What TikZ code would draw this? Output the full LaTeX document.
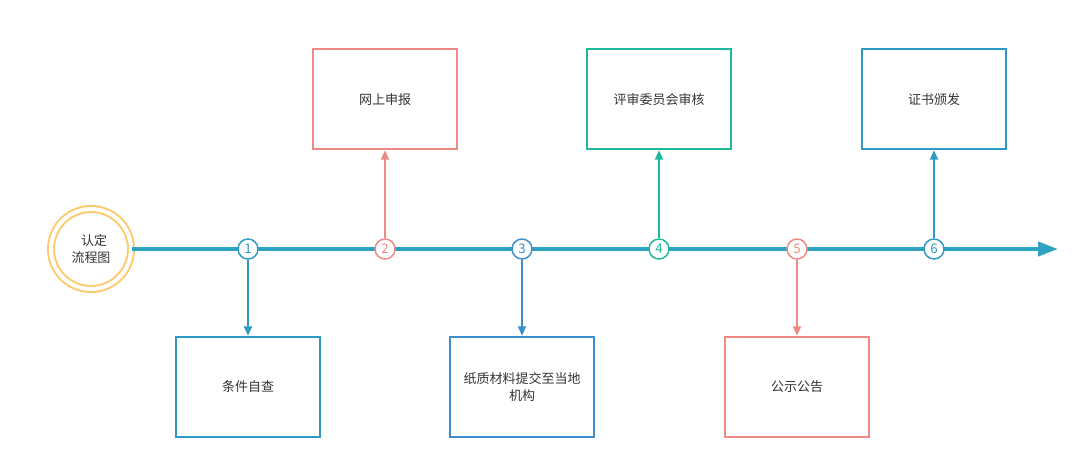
\documentclass[tikz,border=0pt]{standalone}
\usepackage{fontspec}
\setmainfont{Noto Sans CJK SC}
\usetikzlibrary{arrows.meta,positioning}
\definecolor{lineblue}{HTML}{2EA3C1}
\definecolor{stepblue}{HTML}{2E9AC2}
\definecolor{deepblue}{HTML}{3C8FCB}
\definecolor{salmon}{HTML}{EE8A85}
\definecolor{teal}{HTML}{1EB89B}
\definecolor{gold}{HTML}{FDCB6E}
\definecolor{ink}{HTML}{333333}

\begin{document}
\begin{tikzpicture}[
        x=0.75pt, y=-0.75pt,
        stepbox/.style={
            draw=#1,
            line width=1.5pt,
            minimum width=108pt,
            minimum height=75pt,
            align=center,
            text=ink,
            font=\fontsize{9.75}{13}\selectfont
        },
        numdot/.style={
            circle,
            draw=#1,
            fill=white,
            line width=1.1pt,
            minimum size=15pt,
            inner sep=0pt,
            text=#1,
            font=\fontsize{10}{12}\selectfont
        },
        link/.style={
            draw=#1,
            line width=1.3pt,
            -{Triangle[length=7pt,width=6pt]}
        }
    ]

        \useasboundingbox (0,0) rectangle (1083,469);

        \node[circle, draw=gold, double=white, double distance=3pt,
              line width=1.5pt, minimum size=60pt, inner sep=0pt,
              align=center, text=ink, font=\fontsize{9.75}{13}\selectfont]
            (start) at (91,249) {\hspace{0.5em}认定\\流程图};

        \coordinate (finish) at (1058,249);

        \draw[lineblue, line width=3pt, -{Triangle[length=15pt,width=10.5pt]}]
            (start) -- (finish);

        \node[numdot=stepblue] (s1) at (248,249) {1};
        \node[numdot=salmon] (s2) at (385,249) {2};
        \node[numdot=deepblue] (s3) at (522,249) {3};
        \node[numdot=teal] (s4) at (659,249) {4};
        \node[numdot=salmon] (s5) at (797,249) {5};
        \node[numdot=stepblue] (s6) at (934,249) {6};

        \node[stepbox=stepblue, below=57pt of s1] (t1) {条件自查};
        \node[stepbox=salmon, above=66pt of s2] (t2) {网上申报};
        \node[stepbox=deepblue, below=57pt of s3] (t3) {纸质材料提交至当地\\机构};
        \node[stepbox=teal, above=66pt of s4] (t4) {评审委员会审核};
        \node[stepbox=salmon, below=57pt of s5] (t5) {公示公告};
        \node[stepbox=stepblue, above=66pt of s6] (t6) {证书颁发};

        \draw[link=stepblue] (s1) -- (t1);
        \draw[link=salmon] (s2) -- (t2);
        \draw[link=deepblue] (s3) -- (t3);
        \draw[link=teal] (s4) -- (t4);
        \draw[link=salmon] (s5) -- (t5);
        \draw[link=stepblue] (s6) -- (t6);

    \end{tikzpicture}
\end{document}
